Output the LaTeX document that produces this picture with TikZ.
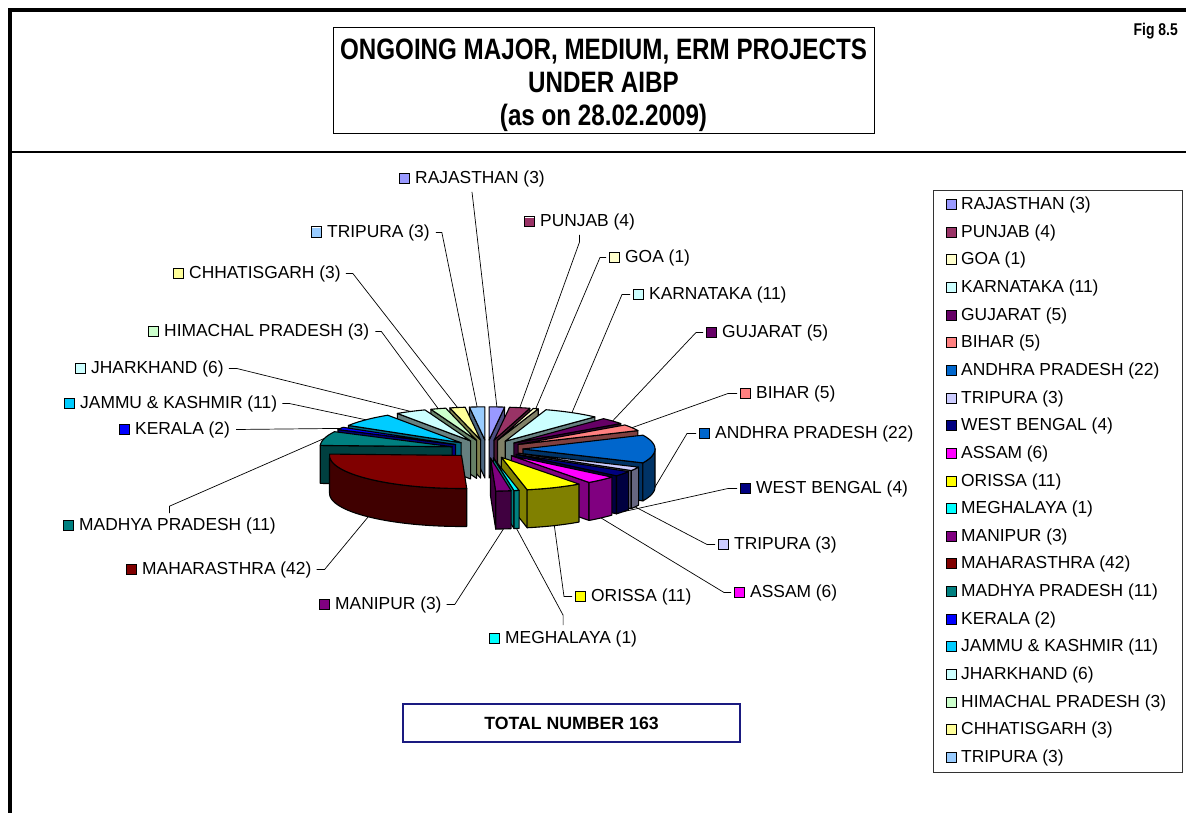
\documentclass[tikz,border=0pt]{standalone}
\usepackage{fontspec}
\setmainfont{Liberation Sans}
\newfontfamily\narrowfont{Liberation Sans}[FakeStretch=0.82]

% slice colours
\definecolor{cRaj}{HTML}{9999FF}
\definecolor{cPun}{HTML}{993366}
\definecolor{cGoa}{HTML}{FFFFCC}
\definecolor{cKar}{HTML}{CCFFFF}
\definecolor{cGuj}{HTML}{660066}
\definecolor{cBih}{HTML}{FF8080}
\definecolor{cAp}{HTML}{0066CC}
\definecolor{cTrr}{HTML}{CCCCFF}
\definecolor{cWb}{HTML}{000080}
\definecolor{cAss}{HTML}{FF00FF}
\definecolor{cOri}{HTML}{FFFF00}
\definecolor{cMeg}{HTML}{00FFFF}
\definecolor{cMan}{HTML}{800080}
\definecolor{cMah}{HTML}{800000}
\definecolor{cMp}{HTML}{008080}
\definecolor{cKer}{HTML}{0000FF}
\definecolor{cJk}{HTML}{00CCFF}
\definecolor{cJha}{HTML}{CCFFFF}
\definecolor{cHim}{HTML}{CCFFCC}
\definecolor{cChh}{HTML}{FFFF99}
\definecolor{cTrl}{HTML}{99CCFF}
\definecolor{boxnavy}{HTML}{1A1A80}

% small colour key square in front of a label
\newcommand\lsq[1]{\raisebox{0.5pt}{\fboxsep=0pt\fboxrule=1pt\fcolorbox{black}{#1}{\rule{0pt}{9pt}\rule{9pt}{0pt}}}}

% pie geometry (centre, radii, explosion, wall height)
\newcommand\pieCX{487}
\newcommand\pieCY{449}
\newcommand\pieR{132}
\newcommand\pieRy{33.1}
\newcommand\pieD{36}
\newcommand\pieDy{9.04}
\newcommand\pieH{38}

\begin{document}
\begin{tikzpicture}[x=1pt,y=-1pt,
  sltop/.style={fill=#1, draw=black, line width=1.1pt, line join=round},
  slside/.style={fill=#1!50!black, draw=black, line width=1.1pt, line join=round},
  leader/.style={draw=black, line width=0.7pt},
  lbl/.style={anchor=base west, inner sep=0pt, font=\fontsize{17.4}{20}\selectfont},
  titleline/.style={anchor=base, inner sep=0pt, font=\narrowfont\bfseries\fontsize{29.5}{31}\selectfont},
]
\useasboundingbox (0,0) rectangle (1186,813);
\fill[white] (0,0) rectangle (1186,813);

% outer frame
\draw[line width=3.5pt] (10,813) -- (10,10) -- (1186,10);
\draw[line width=2pt] (10,152) -- (1186,152);

% title
\node[draw, line width=0.8pt, minimum width=541pt, minimum height=106pt, inner sep=0pt] (titlebox) at (603.5,80) {};
\node[titleline] (title1) at (603.5,60) {ONGOING MAJOR, MEDIUM, ERM PROJECTS};
\node[titleline] (title2) at (603.5,93) {UNDER AIBP};
\node[titleline] (title3) at (603.5,126) {(as on 28.02.2009)};
\node[anchor=base east, inner sep=0pt, font=\narrowfont\bfseries\fontsize{17}{19}\selectfont] (fig) at (1178,36) {Fig 8.5};

% exploded 3D pie, slices listed back to front
\foreach \angA/\angB/\scol/\skey in {
  90/83.25/cRaj/raj, 96.75/90/cTrl/trl, 103.5/96.75/cChh/chh,
  83.25/74.25/cPun/pun, 74.25/72/cGoa/goa, 110.25/103.5/cHim/him,
  123.75/110.25/cJha/jha, 72/47.25/cKar/kar, 148.5/123.75/cJk/jk,
  47.25/36/cGuj/guj, 153/148.5/cKer/ker, 36/24.75/cBih/bih,
  177.75/153/cMp/mp, 24.75/-24.75/cAp/ap, -24.75/-31.5/cTrr/trr,
  -31.5/-40.5/cWb/wb, -87.75/-182.25/cMah/mah, -40.5/-54/cAss/ass,
  -54/-78.75/cOri/ori, -78.75/-81/cMeg/meg, -81/-87.75/cMan/man}
{
  \pgfmathsetmacro\sMid{(\angA+\angB)/2}
  \pgfmathsetmacro\sOx{\pieCX+\pieD*cos(\sMid)}
  \pgfmathsetmacro\sOy{\pieCY-\pieDy*sin(\sMid)}
  \pgfmathtruncatemacro\sFa{cos(\angA)<0 ? 1 : 0}
  \pgfmathtruncatemacro\sFb{cos(\angB)>0 ? 1 : 0}
  \pgfmathsetmacro\sWa{min(\angA,0)}
  \pgfmathsetmacro\sWb{max(\angB,-180)}
  \pgfmathtruncatemacro\sW{\sWa>\sWb ? 1 : 0}
  % cut faces
  \ifnum\sFa=1
    \filldraw[slside=\scol] (\sOx,\sOy) -- ({\sOx+\pieR*cos(\angA)},{\sOy-\pieRy*sin(\angA)})
      -- ++(0,\pieH) -- ({\sOx},{\sOy+\pieH}) -- cycle;
  \fi
  \ifnum\sFb=1
    \filldraw[slside=\scol] (\sOx,\sOy) -- ({\sOx+\pieR*cos(\angB)},{\sOy-\pieRy*sin(\angB)})
      -- ++(0,\pieH) -- ({\sOx},{\sOy+\pieH}) -- cycle;
  \fi
  % outer wall
  \ifnum\sW=1
    \filldraw[slside=\scol]
      plot[domain=\sWa:\sWb, samples=40] ({\sOx+\pieR*cos(\x)},{\sOy-\pieRy*sin(\x)})
      -- plot[domain=\sWb:\sWa, samples=40] ({\sOx+\pieR*cos(\x)},{\sOy-\pieRy*sin(\x)+\pieH})
      -- cycle;
  \fi
  % top face
  \filldraw[sltop=\scol] (\sOx,\sOy)
    -- plot[domain=\angA:\angB, samples=40] ({\sOx+\pieR*cos(\x)},{\sOy-\pieRy*sin(\x)}) -- cycle;
  % leader anchor on the slice
  \pgfmathsetmacro\sAx{\sOx+\pieR*cos(\sMid)}
  \pgfmathsetmacro\sAy{\sOy-\pieRy*sin(\sMid)+(sin(\sMid)<0.001 ? \pieH : 0)}
  \coordinate (p-\skey) at (\sAx,\sAy);
}

% slice labels
\node[lbl] (raj) at (399,184) {\lsq{cRaj}\hspace{5pt}RAJASTHAN (3)};
\node[lbl] (trl) at (311,237) {\lsq{cTrl}\hspace{5pt}TRIPURA (3)};
\node[lbl] (pun) at (524,227) {\lsq{cPun}\hspace{5pt}PUNJAB (4)};
\node[lbl] (goa) at (609,262) {\lsq{cGoa}\hspace{5pt}GOA (1)};
\node[lbl] (kar) at (633,299) {\lsq{cKar}\hspace{5pt}KARNATAKA (11)};
\node[lbl] (guj) at (706,337) {\lsq{cGuj}\hspace{5pt}GUJARAT (5)};
\node[lbl] (bih) at (740,398) {\lsq{cBih}\hspace{5pt}BIHAR (5)};
\node[lbl] (ap)  at (699,438) {\lsq{cAp}\hspace{5pt}ANDHRA PRADESH (22)};
\node[lbl] (wb)  at (740,493) {\lsq{cWb}\hspace{5pt}WEST BENGAL (4)};
\node[lbl] (trr) at (718,549) {\lsq{cTrr}\hspace{5pt}TRIPURA (3)};
\node[lbl] (ass) at (734,597) {\lsq{cAss}\hspace{5pt}ASSAM (6)};
\node[lbl] (ori) at (575,601) {\lsq{cOri}\hspace{5pt}ORISSA (11)};
\node[lbl] (meg) at (489,643) {\lsq{cMeg}\hspace{5pt}MEGHALAYA (1)};
\node[lbl] (man) at (319,609) {\lsq{cMan}\hspace{5pt}MANIPUR (3)};
\node[lbl] (mah) at (126,574) {\lsq{cMah}\hspace{5pt}MAHARASTHRA (42)};
\node[lbl] (mp)  at (63,530)  {\lsq{cMp}\hspace{5pt}MADHYA PRADESH (11)};
\node[lbl] (ker) at (119,434) {\lsq{cKer}\hspace{5pt}KERALA (2)};
\node[lbl] (jk)  at (64,408)  {\lsq{cJk}\hspace{5pt}JAMMU \& KASHMIR (11)};
\node[lbl] (jha) at (75,373)  {\lsq{cJha}\hspace{5pt}JHARKHAND (6)};
\node[lbl] (him) at (148,336) {\lsq{cHim}\hspace{5pt}HIMACHAL PRADESH (3)};
\node[lbl] (chh) at (173,278) {\lsq{cChh}\hspace{5pt}CHHATISGARH (3)};

% leader lines
\draw[leader] ([yshift=-4pt]raj.south) -- (p-raj);
\draw[leader] ([xshift=6pt]trl.east) -- ++(6,0) -- (p-trl);
\draw[leader] ([yshift=-4pt]pun.south) -- ++(0,7) -- (p-pun);
\draw[leader] ([xshift=-3pt]goa.west) -- ++(-6,0) -- (p-goa);
\draw[leader] ([xshift=-3pt]kar.west) -- ++(-8,0) -- (p-kar);
\draw[leader] ([xshift=-3pt]guj.west) -- ++(-7,0) -- (p-guj);
\draw[leader] ([xshift=-3pt]bih.west) -- ++(-9,0) -- (p-bih);
\draw[leader] ([xshift=-3pt]ap.west) -- ++(-9,0) -- (p-ap);
\draw[leader] ([xshift=-3pt]wb.west) -- ++(-9,0) -- (p-wb);
\draw[leader] ([xshift=-3pt]trr.west) -- ++(-8,0) -- (p-trr);
\draw[leader] ([xshift=-3pt]ass.west) -- ++(-7,0) -- (p-ass);
\draw[leader] ([xshift=-3pt]ori.west) -- ++(-8,0) -- (p-ori);
\draw[leader] ([yshift=5pt]meg.north) -- ++(0,-10) -- (p-meg);
\draw[leader] ([xshift=5pt]man.east) -- ++(8,0) -- (p-man);
\draw[leader] ([xshift=5pt]mah.east) -- ++(8,0) -- (p-mah);
\draw[leader] ([yshift=4pt]mp.north) -- ++(0,-7) -- (p-mp);
\draw[leader] ([xshift=6pt]ker.east) -- (p-ker);
\draw[leader] ([xshift=5pt]jk.east) -- ++(7,0) -- (p-jk);
\draw[leader] ([xshift=5pt]jha.east) -- ++(8,0) -- (p-jha);
\draw[leader] ([xshift=6pt]him.east) -- ++(6,0) -- (p-him);
\draw[leader] ([xshift=5pt]chh.east) -- ++(7,0) -- (p-chh);

% total
\node[draw=boxnavy, line width=1.3pt, minimum width=337pt, minimum height=38pt, inner sep=0pt,
      font=\bfseries\fontsize{17.7}{20}\selectfont] (total) at (571.5,723) {TOTAL NUMBER 163};

% legend
\node[draw=black!80, line width=0.9pt, minimum width=249pt, minimum height=582pt, inner sep=0pt] (legend) at (1057.5,481) {};
\foreach \lcol/\ltext [count=\li from 0] in {
  cRaj/RAJASTHAN (3), cPun/PUNJAB (4), cGoa/GOA (1), cKar/KARNATAKA (11),
  cGuj/GUJARAT (5), cBih/BIHAR (5), cAp/ANDHRA PRADESH (22), cTrr/TRIPURA (3),
  cWb/WEST BENGAL (4), cAss/ASSAM (6), cOri/ORISSA (11), cMeg/MEGHALAYA (1),
  cMan/MANIPUR (3), cMah/MAHARASTHRA (42), cMp/MADHYA PRADESH (11),
  cKer/KERALA (2), cJk/JAMMU \& KASHMIR (11), cJha/JHARKHAND (6),
  cHim/HIMACHAL PRADESH (3), cChh/CHHATISGARH (3), cTrl/TRIPURA (3)}
{
  \node[lbl] (leg-\li) at (946,{209.5+27.65*\li}) {\lsq{\lcol}\hspace{4pt}\ltext};
}
\end{tikzpicture}
\end{document}
